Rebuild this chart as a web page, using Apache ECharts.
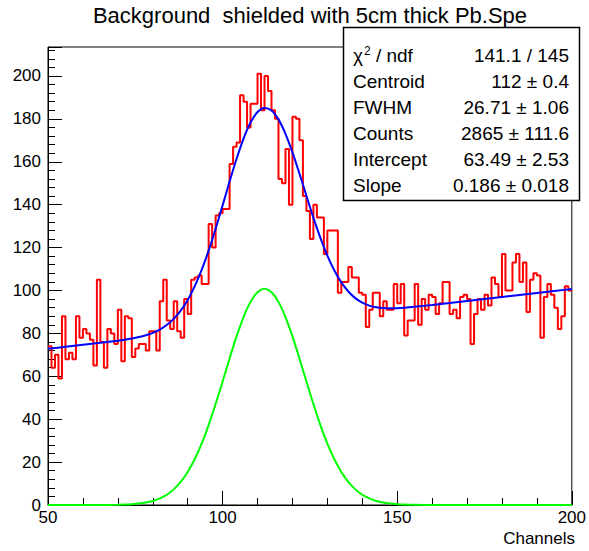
<!DOCTYPE html>
<html><head><meta charset="utf-8">
<script src="https://cdn.jsdelivr.net/npm/echarts@6.0.0/dist/echarts.min.js"></script>
<style>html,body{margin:0;padding:0;background:#fff}#c{width:589px;height:551px}</style>
</head><body><div id="c"></div><script>
// Histogram: counts per 1-channel bin, first bin starts at channel 50
const binStart = 50;
const binWidth = 1;
const counts = [
  74, 64, 70, 59, 88, 68, 71, 68, 88, 78,   // 50-59
  82, 80, 77, 65, 105, 76, 64, 82, 80, 75,  // 60-69
  91, 67, 88, 87, 69, 73, 75, 75, 72, 81,   // 70-79
  81, 72, 95, 105, 86, 82, 95, 81, 78, 96,  // 80-89
  89, 105, 106, 107, 103, 103, 131, 120, 135, 136, // 90-99
  138, 138, 159, 167, 169, 191, 188, 176, 187, 187, // 100-109
  201, 184, 200, 193, 184, 180, 152, 150, 166, 140, // 110-119
  181, 180, 170, 144, 137, 124, 140, 134, 134, 117, // 120-129
  128, 128, 128, 99, 104, 104, 111, 106, 106, 99,   // 130-139
  98, 83, 91, 99, 99, 88, 95, 91, 91, 103,          // 140-149
  94, 103, 79, 86, 86, 103, 84, 96, 91, 98,         // 150-159
  97, 89, 94, 104, 104, 89, 91, 87, 97, 98,         // 160-169
  96, 75, 89, 96, 91, 98, 93, 106, 103, 97,         // 170-179
  117, 100, 100, 113, 117, 104, 113, 90, 105, 108,  // 180-189
  107, 78, 97, 103, 98, 92, 82, 88, 102, 100        // 190-199
];
// Fit curves (total fit in blue, peak component in green)
const fitX = [50,55,60,65,70,72,74,76,78,80,82,84,86,88,90,92,94,96,98,100,102,104,106,108,110,112,114,116,118,120,122,124,126,128,130,132,134,136,138,140,142,144,146,148,150,152,155,160,165,170,175,180,185,190,195,200];
const fitTotal = [72.79,73.72,74.65,75.60,76.62,77.08,77.62,78.28,79.13,80.25,81.79,83.90,86.77,90.60,95.59,101.90,109.58,118.61,128.77,139.68,150.79,161.41,170.82,178.27,183.17,185.09,183.91,179.76,173.05,164.39,154.51,144.14,133.98,124.56,116.28,109.34,103.77,99.53,96.44,94.32,92.95,92.15,91.78,91.67,91.76,91.96,92.40,93.26,94.18,95.11,96.04,96.97,97.90,98.83,99.76,100.69];
const fitPeak = [0,0,0,0.02,0.11,0.20,0.37,0.65,1.13,1.88,3.05,4.79,7.28,10.74,15.36,21.30,28.61,37.26,47.05,57.59,68.33,78.58,87.61,94.69,99.22,100.77,99.22,94.69,87.61,78.58,68.33,57.59,47.05,37.26,28.61,21.30,15.36,10.74,7.28,4.79,3.05,1.88,1.13,0.65,0.37,0.20,0.08,0.01,0,0,0,0,0,0,0,0];
// Axis settings
const xMin = 50, xMax = 200, xStep = 50;
const yMin = 0, yMax = 213.5, yStep = 20;
// Texts
const titleText = 'Background  shielded with 5cm thick Pb.Spe';
const xTitle = 'Channels';
const statLabels = ['{n|\u03C7}{s|2}{n| / ndf}', 'Centroid', 'FWHM', 'Counts', 'Intercept', 'Slope'];
const statValues = ['141.1 / 145', '112 \u00B1 0.4', '26.71 \u00B1 1.06', '2865 \u00B1 111.6', '63.49 \u00B1 2.53', '0.186 \u00B1 0.018'];

const FONT = "'Liberation Sans', Arial, Helvetica, sans-serif";
const histData = counts.map((v, i) => [binStart + i * binWidth, v]);
histData.push([binStart + counts.length * binWidth, counts[counts.length - 1]]);

const chart = echarts.init(document.getElementById('c'), null, {renderer: 'svg'});

const graphics = [
  {type: 'text', x: 310, y: 15, z: 100,
   style: {text: titleText, font: '22px ' + FONT, fill: '#000', textAlign: 'center', textVerticalAlign: 'middle'}},
  {type: 'text', x: 575, y: 538, z: 100,
   style: {text: xTitle, font: '17px ' + FONT, fill: '#000', textAlign: 'right', textVerticalAlign: 'middle'}},
  {type: 'rect', shape: {x: 343.5, y: 27.5, width: 236, height: 173}, z: 100,
   style: {fill: '#fff', stroke: '#000', lineWidth: 1.5}}
];
statLabels.forEach((t, i) => {
  graphics.push({type: 'text', x: 353, y: 55 + 26 * i, z: 101,
    style: {text: t, font: '19px ' + FONT, fill: '#000', textVerticalAlign: 'middle',
      rich: {n: {font: '19px ' + FONT, fill: '#000'}, s: {font: '12px ' + FONT, fill: '#000', verticalAlign: 'top', padding: [0,0,8,1]}}}});
  graphics.push({type: 'text', x: 569, y: 55 + 26 * i, z: 101,
    style: {text: statValues[i], font: '19px ' + FONT, fill: '#000', textAlign: 'right', textVerticalAlign: 'middle'}});
});

chart.setOption({
  animation: false,
  backgroundColor: '#fff',
  grid: {left: 48, right: 15, top: 47, bottom: 46, show: true, borderColor: '#000', borderWidth: 1, backgroundColor: 'transparent'},
  xAxis: {
    type: 'value', min: xMin, max: xMax, interval: xStep,
    axisLine: {show: true, onZero: false, lineStyle: {color: '#000', width: 1}},
    axisTick: {show: true, inside: true, length: 14, lineStyle: {color: '#000', width: 1}},
    minorTick: {show: true, splitNumber: 5, length: 7, lineStyle: {color: '#000', width: 1}},
    axisLabel: {color: '#000', fontSize: 17, fontFamily: FONT, margin: 4},
    splitLine: {show: false}
  },
  yAxis: {
    type: 'value', min: yMin, max: yMax, interval: yStep,
    axisLine: {show: true, lineStyle: {color: '#000', width: 1}},
    axisTick: {show: true, inside: true, length: 14, lineStyle: {color: '#000', width: 1}},
    minorTick: {show: true, splitNumber: 5, length: 7, lineStyle: {color: '#000', width: 1}},
    axisLabel: {color: '#000', fontSize: 17, fontFamily: FONT, margin: 7, showMaxLabel: false},
    splitLine: {show: false}
  },
  graphic: graphics,
  series: [
    {type: 'line', data: histData, step: 'end', symbol: 'none', z: 3,
     lineStyle: {color: '#ff0000', width: 2}},
    {type: 'line', data: fitX.map((x, i) => [x, fitTotal[i]]), smooth: 0.3, symbol: 'none', z: 4,
     lineStyle: {color: '#0000ff', width: 2}},
    {type: 'line', data: fitX.map((x, i) => [x, fitPeak[i]]), smooth: 0.3, symbol: 'none', z: 5,
     lineStyle: {color: '#00ff00', width: 2}}
  ]
});
</script></body></html>
